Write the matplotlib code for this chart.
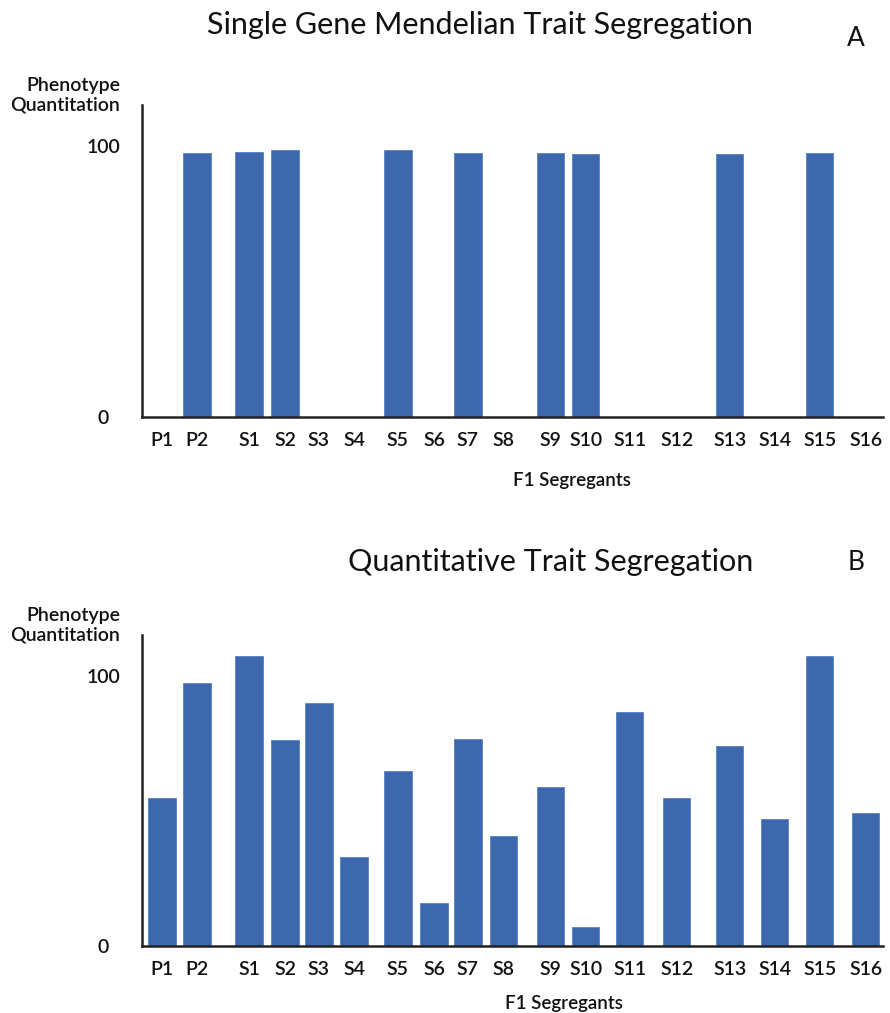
import matplotlib.pyplot as plt
import numpy as np

# categories and values
labels = ["P1", "P2", "S1", "S2", "S3", "S4", "S5", "S6", "S7", "S8",
          "S9", "S10", "S11", "S12", "S13", "S14", "S15", "S16"]
mendelian = [0, 97.4, 97.8, 98.5, 0, 0, 98.5, 0, 97.4, 0,
             97.4, 97.0, 0, 0, 97.0, 0, 97.4, 0]
quantitative = [54.6, 97.4, 107.4, 76.0, 90.0, 32.8, 64.6, 15.9, 76.4, 40.6,
                58.7, 7.0, 86.7, 54.6, 73.8, 46.9, 107.4, 49.1]
titles = ["Single Gene Mendelian Trait Segregation", "Quantitative Trait Segregation"]
panel_tags = ["A", "B"]

# uneven spacing of the slots, as in the hand-made figure
gaps = [0, 0.875, 1.3, 0.9, 0.85, 0.875, 1.1, 0.9, 0.85, 0.9,
        1.175, 0.875, 1.1, 1.175, 1.325, 1.125, 1.125, 1.15]
xpos = np.cumsum(gaps)

BAR = "#3d68ae"
W, H = 890, 1013
plt.rcParams['font.family'] = ['Lato', 'DejaVu Sans']

fig = plt.figure(figsize=(W / 100, H / 100), dpi=100)

def fx(px):
    return px / W

def fy(py):
    return 1 - py / H

# pixel layout of each panel: (axis top, baseline, title x, title y, ylabel y, xlabel x, xlabel y)
layout = [(105, 417, 480, 25, 95, 572, 480), (635, 946, 551, 562, 625, 564, 1003)]

for i, vals in enumerate([mendelian, quantitative]):
    top, base, tx, ty, ly, xlx, xly = layout[i]
    ax = fig.add_axes([fx(142), fy(base), fx(883) - fx(142), (base - top) / H])
    ax.bar(xpos, vals, width=0.68, color=BAR, edgecolor="#5a80c0", linewidth=0.6)
    ax.set_xlim(-0.5, 18.03)
    ax.set_ylim(0, 115)
    for s in ["top", "right"]:
        ax.spines[s].set_visible(False)
    for s in ["left", "bottom"]:
        ax.spines[s].set_linewidth(1.8)
        ax.spines[s].set_color("#222222")
    ax.set_xticks(xpos)
    ax.set_xticklabels(labels, fontsize=14, fontweight="semibold", color="#111111")
    ax.set_yticks([0, 100])
    ax.set_yticklabels(["0", "100"], fontsize=14, fontweight="semibold", color="#111111")
    for t in ax.get_yticklabels():
        t.set_horizontalalignment("center")
    ax.tick_params(axis="x", length=0, pad=11)
    ax.tick_params(axis="y", length=0, pad=28)

    fig.text(fx(tx), fy(ty), titles[i], fontsize=22,
             ha="center", va="center", color="#111111")
    fig.text(fx(856), fy(38 if i == 0 else 563), panel_tags[i], fontsize=19,
             ha="center", va="center", color="#111111")
    fig.text(fx(120), fy(ly), "Phenotype\nQuantitation", fontsize=14,
             fontweight="semibold", ha="right", va="center", multialignment="right",
             linespacing=1.15, color="#111111")
    fig.text(fx(xlx), fy(xly), "F1 Segregants", fontsize=13.5, fontweight="semibold",
             ha="center", va="center", color="#111111")

fig.savefig("out.png", dpi=100, facecolor="white")
